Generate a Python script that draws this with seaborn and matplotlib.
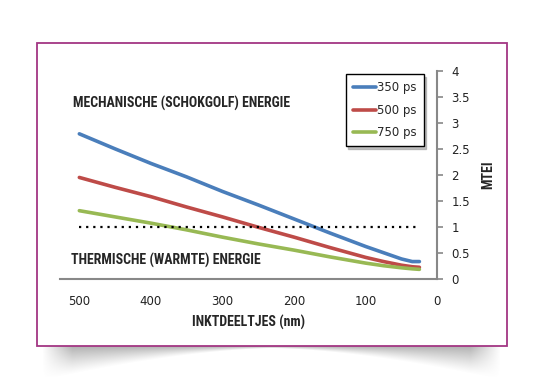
import numpy as np
import pandas as pd
import matplotlib
matplotlib.use("Agg")
import matplotlib.pyplot as plt
import seaborn as sns

# particle size (nm) and MTEI per pulse duration
size_nm = [500, 450, 400, 350, 300, 250, 200, 150, 100, 75, 50, 35, 25]
mtei_350 = [2.79, 2.50, 2.22, 1.96, 1.68, 1.42, 1.15, 0.88, 0.62, 0.50, 0.38, 0.33, 0.33]
mtei_500 = [1.95, 1.76, 1.58, 1.38, 1.19, 0.99, 0.80, 0.60, 0.41, 0.33, 0.26, 0.23, 0.22]
mtei_750 = [1.31, 1.19, 1.07, 0.94, 0.80, 0.67, 0.55, 0.42, 0.30, 0.25, 0.21, 0.19, 0.18]
series = ["350 ps", "500 ps", "750 ps"]
colors = ["#4a7ebb", "#be4b48", "#98b954"]
threshold = 1.0

df = pd.DataFrame({"size": size_nm * 3,
                   "MTEI": mtei_350 + mtei_500 + mtei_750,
                   "pulse": [s for s in series for _ in size_nm]})

sns.set_style("white")
plt.rcParams["font.family"] = ["DejaVu Sans"]
narrow = ["Roboto Condensed", "DejaVu Sans"]

W, H = 536, 392
fig = plt.figure(figsize=(W / 100, H / 100), dpi=100)

# background: curled-page shadow + pink frame
bg = fig.add_axes([0, 0, 1, 1])
bg.set_xlim(0, W)
bg.set_ylim(H, 0)
bg.axis("off")
yy, xx = np.mgrid[0:H, 0:W]
depth = 2 + 30 * (np.abs(xx - 272) / 220.0) ** 1.6
t = (yy - 346) / depth
shade = np.clip(1 - t, 0, 1) ** 1.2 * (yy >= 346)
edge = np.clip((xx - 42) / 30.0, 0, 1) * np.clip((500 - xx) / 30.0, 0, 1)
shade = shade * edge * 0.6
img = np.ones((H, W, 4))
img[..., :3] = 0.5
img[..., 3] = shade
bg.imshow(img, extent=(0, W, H, 0), aspect="auto", interpolation="bilinear")
bg.add_patch(plt.Rectangle((37, 43), 470, 303, fill=True, facecolor="white",
                           edgecolor="#a33683", lw=1.3))

ax = fig.add_axes([60 / W, 1 - 278.7 / H, (437.3 - 60) / W, (278.7 - 71) / H])
ax.patch.set_alpha(0)
sns.lineplot(data=df, x="size", y="MTEI", hue="pulse", palette=colors,
             linewidth=2.6, ax=ax, legend=True)
ax.plot([size_nm[0], size_nm[-1]], [threshold, threshold], color="black",
        linestyle=(0, (1, 2.2)), lw=1.6)

ax.set_xlim(527, 0)
ax.set_ylim(0, 4)
ax.set_xticks([500, 400, 300, 200, 100, 0])
ax.set_yticks([0, 0.5, 1, 1.5, 2, 2.5, 3, 3.5, 4])
ax.set_yticklabels(["0", "0.5", "1", "1.5", "2", "2.5", "3", "3.5", "4"])
ax.yaxis.tick_right()
ax.yaxis.set_label_position("right")
ax.tick_params(axis="both", labelsize=8.5, colors="#222222", length=4,
               width=1.2, direction="out", color="#888888", pad=6)
ax.tick_params(axis="x", pad=8)
for s in ["left", "top"]:
    ax.spines[s].set_visible(False)
for s in ["right", "bottom"]:
    ax.spines[s].set_color("#888888")
    ax.spines[s].set_linewidth(1.5)

ax.set_xlabel("INKTDEELTJES (nm)", family=narrow, fontweight="bold",
              fontsize=10, labelpad=5)
ax.set_ylabel("MTEI", family=narrow, fontweight="bold", fontsize=10,
              labelpad=8, rotation=90)

ax.text(0.034, 0.845, "MECHANISCHE (SCHOKGOLF) ENERGIE", transform=ax.transAxes,
        family=narrow, fontweight="bold", fontsize=10, va="center", ha="left")
ax.text(0.030, 0.09, "THERMISCHE (WARMTE) ENERGIE", transform=ax.transAxes,
        family=narrow, fontweight="bold", fontsize=10, va="center", ha="left")

leg = ax.legend(loc="upper left", bbox_to_anchor=(345.7 / W, 1 - 74.3 / H),
                bbox_transform=fig.transFigure, borderaxespad=0, frameon=True,
                fancybox=False, shadow={"ox": 2, "oy": -2, "color": "#999999", "alpha": 0.6},
                fontsize=8.5, handlelength=2.0, handletextpad=0.05,
                labelspacing=0.8, borderpad=0.6, title=None)
leg.get_frame().set_edgecolor("black")
leg.get_frame().set_linewidth(1.0)

fig.savefig("out.png", dpi=100)
